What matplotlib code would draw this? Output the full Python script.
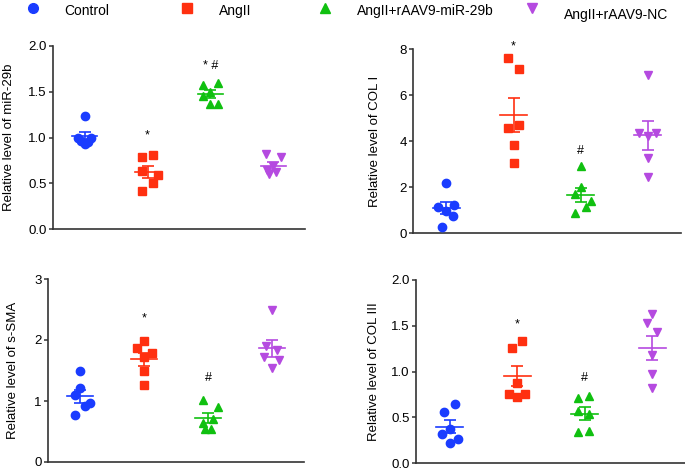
import numpy as np
import matplotlib
matplotlib.use("Agg")
import matplotlib.pyplot as plt

plt.rcParams['font.family'] = ['Liberation Sans', 'DejaVu Sans']

groups = ['Control', 'AngII', 'AngII+rAAV9-miR-29b', 'AngII+rAAV9-NC']
colors = ['#1a3cff', '#ff3010', '#10c010', '#b54ae0']
markers = ['o', 's', '^', 'v']

# valores (6 animales por grupo)
mir29b = [[1.23, 1.00, 1.00, 0.96, 0.95, 0.93],
          [0.79, 0.81, 0.63, 0.585, 0.50, 0.42],
          [1.57, 1.60, 1.50, 1.45, 1.37, 1.37],
          [0.82, 0.79, 0.69, 0.64, 0.60, 0.62]]
col1 = [[2.17, 1.13, 1.20, 0.94, 0.75, 0.26],
        [7.60, 7.14, 4.57, 4.68, 3.81, 3.04],
        [2.93, 2.00, 1.71, 1.38, 1.12, 0.87],
        [6.86, 4.35, 4.35, 4.20, 3.26, 2.42]]
ssma = [[1.50, 1.22, 1.10, 0.97, 0.91, 0.77],
        [1.98, 1.87, 1.78, 1.72, 1.49, 1.27],
        [1.02, 0.90, 0.70, 0.64, 0.54, 0.54],
        [2.50, 1.90, 1.84, 1.72, 1.68, 1.54]]
col3 = [[0.647, 0.556, 0.371, 0.316, 0.265, 0.218],
        [1.335, 1.262, 0.873, 0.756, 0.756, 0.72],
        [0.709, 0.735, 0.571, 0.535, 0.338, 0.353],
        [1.625, 1.527, 1.436, 1.18, 0.97, 0.818]]

# desplazamiento horizontal de cada punto (dot plot)
jit1 = [[0, -0.1, 0.1, -0.05, 0.05, 0],
        [-0.08, 0.08, -0.09, 0.16, 0.08, -0.09],
        [-0.12, 0.12, 0, -0.12, 0, 0.12],
        [-0.12, 0.12, 0, -0.1, -0.07, 0.04]]
jit2 = [[0, -0.12, 0.11, 0, 0.09, -0.07],
        [-0.085, 0.075, -0.085, 0.075, 0, 0],
        [0, 0, -0.085, 0.16, 0.08, -0.085],
        [0, -0.12, 0.12, 0, 0, 0]]
jit3 = [[0, 0, -0.08, 0.16, 0.08, -0.08],
        [0, -0.115, 0.12, 0, 0, 0],
        [-0.08, 0.16, 0.08, -0.08, -0.05, 0.05],
        [0, -0.095, 0.075, -0.12, 0.115, 0]]
jit4 = [[0.085, -0.08, 0.01, -0.11, 0.12, 0],
        [0.075, -0.075, 0, -0.12, 0.12, 0],
        [-0.1, 0.065, -0.1, 0.065, -0.1, 0.065],
        [0, -0.085, 0.075, 0, 0, 0]]

# marcas de significancia: (grupo, texto, y)
sig1 = [(1, '*', 1.02), (2, '* #', 1.78)]
sig2 = [(1, '*', 8.1), (2, '#', 3.55)]
sig3 = [(1, '*', 2.36), (2, '#', 1.38)]
sig4 = [(1, '*', 1.51), (2, '#', 0.93)]

W, H = 685, 471
fig = plt.figure(figsize=(W / 100, H / 100), dpi=100)


def panel(rect, data, jit, sig, ylabel, ylim, yticks, fmt, labx):
    l, t, r, b = rect
    ax = fig.add_axes([l / W, 1 - b / H, (r - l) / W, (b - t) / H])
    for i, vals in enumerate(data):
        vals = np.array(vals)
        ax.plot(i + np.array(jit[i]), vals, linestyle='none', marker=markers[i],
                color=colors[i], markersize=6, zorder=3)
        m = vals.mean()
        sem = vals.std(ddof=1) / np.sqrt(len(vals))
        ax.plot([i - 0.2, i + 0.2], [m, m], color=colors[i], lw=1.2, zorder=4)
        ax.errorbar(i, m, yerr=sem, color=colors[i], capsize=4.5, elinewidth=1.2,
                    capthick=1.2, fmt='none', zorder=4)
    for g, txt, y in sig:
        ax.text(g, y, txt, ha='center', va='center', fontsize=9)
    ax.set_xlim(-0.5, 3.5)
    ax.set_ylim(*ylim)
    ax.set_yticks(yticks)
    ax.set_yticklabels([fmt.format(v) for v in yticks])
    ax.set_xticks([])
    for s in ['top', 'right']:
        ax.spines[s].set_visible(False)
    for s in ['left', 'bottom']:
        ax.spines[s].set_linewidth(1.2)
        ax.spines[s].set_color('#333333')
    ax.tick_params(axis='y', length=3, width=1.1, color='#333333', pad=1.5, labelsize=9.5)
    ax.set_ylabel(ylabel, fontsize=9.5)
    ax.yaxis.set_label_coords(labx, 0.5)
    return ax


panel((53, 46, 305, 229), mir29b, jit1, sig1, 'Relative level of miR-29b',
      (0, 2.0), [0, 0.5, 1.0, 1.5, 2.0], '{:.1f}', -0.152)
panel((413, 49, 681, 233), col1, jit2, sig2, 'Relative level of COL I',
      (0, 8), [0, 2, 4, 6, 8], '{:.0f}', -0.12)
panel((48, 279, 304, 462), ssma, jit3, sig3, 'Relative level of s-SMA',
      (0, 3), [0, 1, 2, 3], '{:.0f}', -0.115)
panel((416, 280, 686, 463), col3, jit4, sig4, 'Relative level of COL III',
      (0, 2.0), [0, 0.5, 1.0, 1.5, 2.0], '{:.1f}', -0.134)

# leyenda superior
lax = fig.add_axes([0, 1 - 30 / H, 1, 30 / H])
lax.set_xlim(0, W)
lax.set_ylim(30, 0)
lax.axis('off')
leg_x = [33, 187, 325, 532]
txt_x = [64, 219, 357, 564]
txt_y = [11, 11, 11, 15]
for i in range(4):
    lax.plot(leg_x[i], 8, marker=markers[i], color=colors[i], markersize=7,
             linestyle='none', clip_on=False)
    lax.text(txt_x[i], txt_y[i], groups[i], fontsize=10, va='center', ha='left')

fig.savefig('out.png', dpi=100)
